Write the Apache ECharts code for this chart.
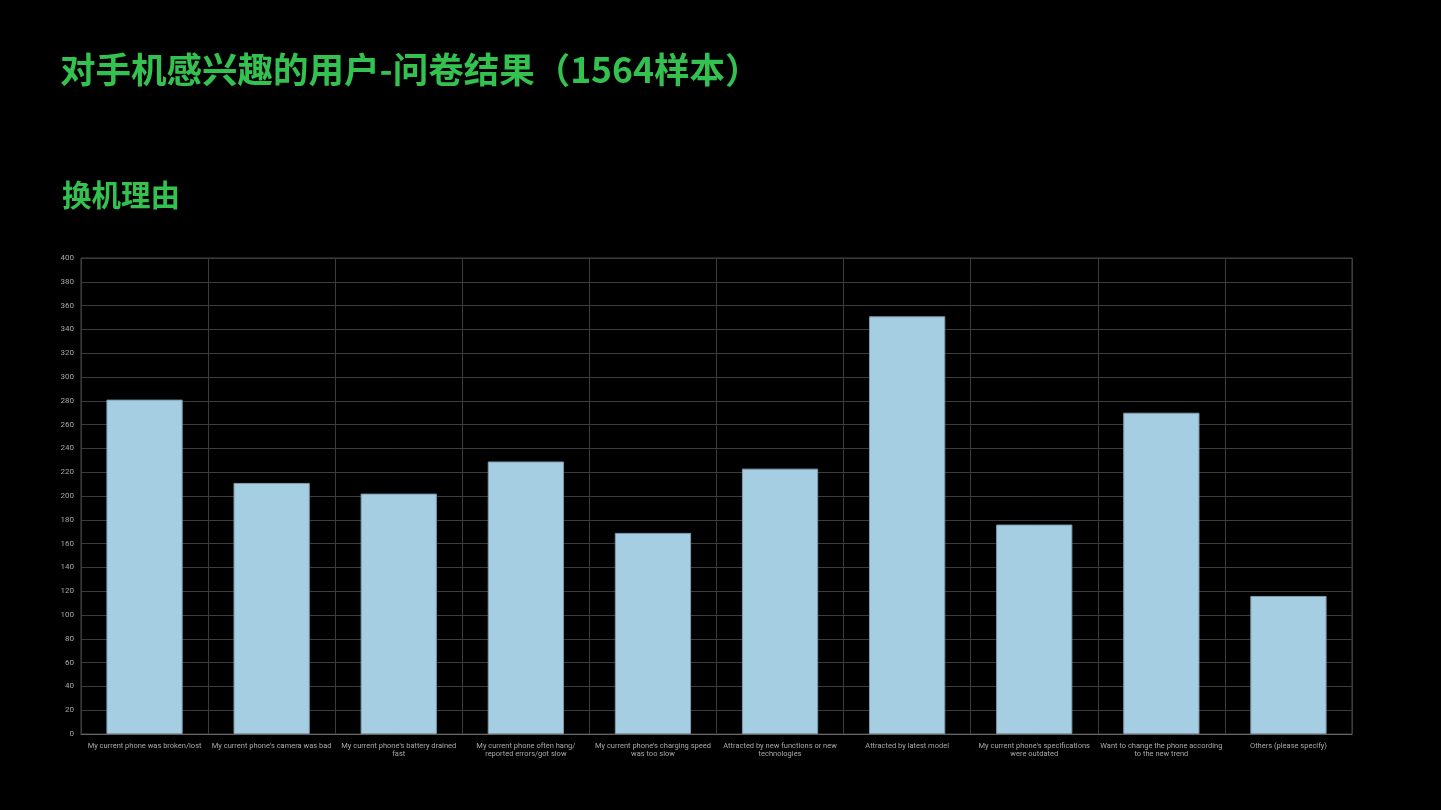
<!DOCTYPE html>
<html>
<head>
<meta charset="utf-8">
<script src="https://cdn.jsdelivr.net/npm/echarts@6/dist/echarts.min.js"></script>
<style>
html,body{margin:0;padding:0;background:#000;}
#c{width:1441px;height:810px;}
</style>
</head>
<body>
<div id="c"></div>
<script>
const titleText = '对手机感兴趣的用户-问卷结果（1564样本）';
const subtitleText = '换机理由';
const categories = [
  'My current phone was broken/lost',
  "My current phone's camera was bad",
  "My current phone's battery drained\nfast",
  'My current phone often hang/\nreported errors/got slow',
  "My current phone's charging speed\nwas too slow",
  'Attracted by new functions or new\ntechnologies',
  'Attracted by latest model',
  "My current phone's specifications\nwere outdated",
  'Want to change the phone according\nto the new trend',
  'Others (please specify)'
];
const values = [281, 211, 202, 229, 169, 223, 351, 176, 270, 116];
const yMin = 0, yMax = 400, yStep = 20;

const chart = echarts.init(document.getElementById('c'));
chart.setOption({
  backgroundColor: '#000',
  title: [
    { text: titleText, left: 55, top: 47,
      textStyle: { color: '#33c24f', fontSize: 35.5, fontWeight: 'bold', fontFamily: 'Noto Sans CJK SC' } },
    { text: subtitleText, left: 57, top: 175,
      textStyle: { color: '#33c24f', fontSize: 29.5, fontWeight: 'bold', fontFamily: 'Noto Sans CJK SC' } }
  ],
  grid: { left: 81, right: 89, top: 258, bottom: 76, show: true, borderColor: '#444', borderWidth: 1 },
  xAxis: {
    type: 'category', data: categories,
    axisLine: { lineStyle: { color: '#666' } },
    axisTick: { show: false },
    splitLine: { show: true, lineStyle: { color: '#3c3c3c' } },
    axisLabel: { color: '#a8a8a8', fontSize: 7.5, interval: 0, lineHeight: 8, margin: 8, fontFamily: 'Roboto' }
  },
  yAxis: {
    type: 'value', min: yMin, max: yMax, interval: yStep,
    axisLine: { show: false }, axisTick: { show: false },
    splitLine: { lineStyle: { color: '#3c3c3c' } },
    axisLabel: { color: '#a8a8a8', fontSize: 8, margin: 7, fontFamily: 'Roboto' }
  },
  series: [{
    type: 'bar', data: values, barWidth: '60%',
    itemStyle: { color: '#a6cee3', borderColor: '#7d9cae', borderWidth: 1 }
  }]
});
</script>
</body>
</html>
